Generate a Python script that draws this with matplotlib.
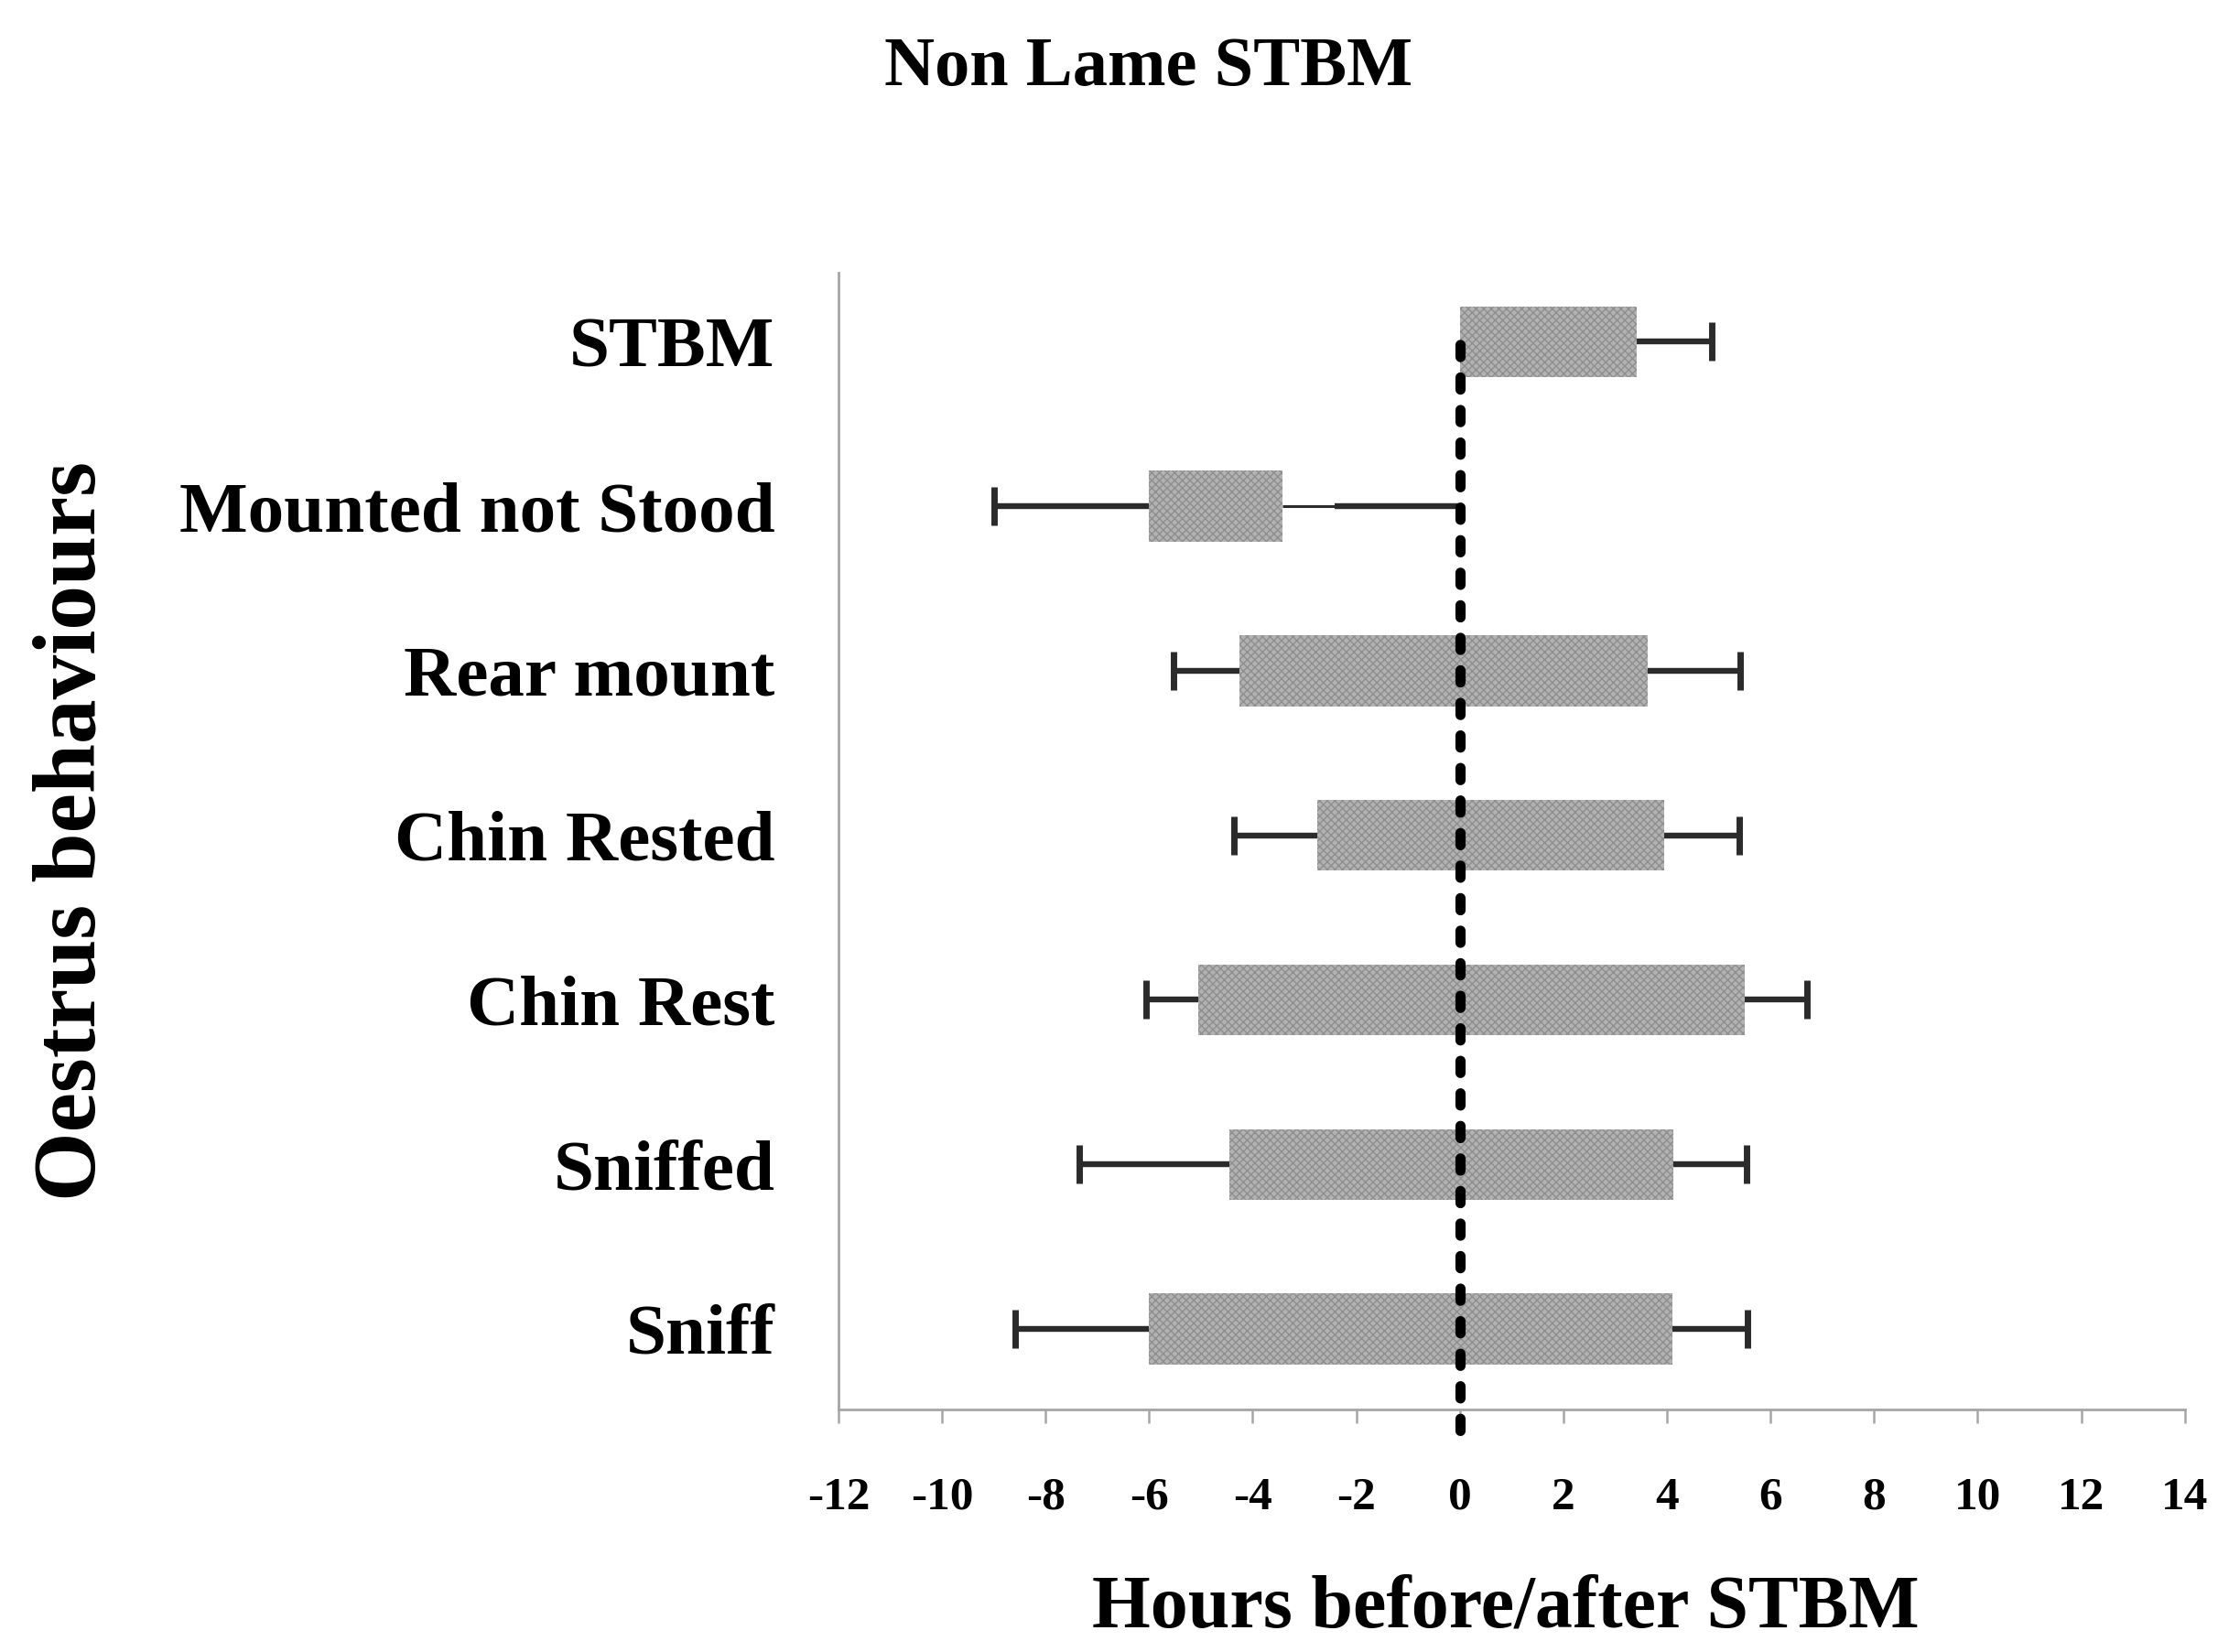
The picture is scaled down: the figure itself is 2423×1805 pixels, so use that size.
import matplotlib
matplotlib.use("Agg")
import matplotlib.pyplot as plt
import numpy as np

# Oestrus behaviours, listed top to bottom
behaviours = ["STBM", "Mounted not Stood", "Rear mount", "Chin Rested",
              "Chin Rest", "Sniffed", "Sniff"]
# Mean onset / end of each behaviour (hours relative to STBM)
onset = [0.0, -6.0, -4.25, -2.75, -5.05, -4.45, -6.0]
end = [3.42, -3.42, 3.63, 3.95, 5.5, 4.12, 4.1]
# Error on onset (drawn to the left) and on end (drawn to the right)
onset_err = [0.0, 3.0, 1.27, 1.62, 1.0, 2.9, 2.58]
end_err = [1.44, 1.0, 1.78, 1.45, 1.2, 1.42, 1.45]

x_ticks = list(range(-12, 15, 2))
x_tick_labels = [str(t) for t in x_ticks]

title = "Non Lame STBM"
x_label = "Hours before/after STBM"
y_label = "Oestrus behaviours"

plt.rcParams["font.family"] = ["Liberation Serif", "DejaVu Serif"]
plt.rcParams["font.weight"] = "bold"
plt.rcParams["hatch.linewidth"] = 1.0

fig = plt.figure(figsize=(24.23, 18.05), dpi=100, facecolor="white")
ax = fig.add_axes([0.378, 0.1468, 0.607, 0.6882])

n = len(behaviours)
ypos = np.arange(n)[::-1]
onset_a = np.array(onset)
end_a = np.array(end)
on_err = np.array(onset_err)
en_err = np.array(end_err)
widths = end_a - onset_a
bar_h = 0.43

ax.barh(ypos, widths, left=onset_a, height=bar_h, color="#b2b2b2",
        edgecolor="none", zorder=2)
ax.barh(ypos, widths, left=onset_a, height=bar_h, color="none",
        edgecolor="#8e8e8e", hatch="xxxx", linewidth=0, zorder=2.1)

err_col = "#2b2b2b"
whisker_lw = 4.6
cap_size = 30
cap_lw = 5.0

# Left whiskers: from the onset outwards, capped at the far end only
for yp, o, oe in zip(ypos, onset_a, on_err):
    if oe > 0:
        ax.plot([o - oe, o], [yp, yp], color=err_col, lw=whisker_lw,
                solid_capstyle="butt", zorder=3)
        ax.plot([o - oe], [yp], marker="|", markersize=cap_size,
                markeredgewidth=cap_lw, color=err_col, zorder=3)

# Right whiskers: from the end outwards
for yp, e, ee in zip(ypos, end_a, en_err):
    if e < 0:
        # behaviour finished before STBM: thin whisker, then link to zero
        ax.plot([e, e + ee], [yp, yp], color=err_col, lw=2.2,
                solid_capstyle="butt", zorder=3)
        ax.plot([e + ee, 0], [yp, yp], color=err_col, lw=whisker_lw,
                solid_capstyle="butt", zorder=3)
    else:
        ax.plot([e, e + ee], [yp, yp], color=err_col, lw=whisker_lw,
                solid_capstyle="butt", zorder=3)
        ax.plot([e + ee], [yp], marker="|", markersize=cap_size,
                markeredgewidth=cap_lw, color=err_col, zorder=3)

# Time of STBM
ax.plot([0, 0], [-0.62, ypos[0] + 0.1], color="black", lw=8,
        linestyle=(0, (1.2, 2.0)), dash_capstyle="round",
        clip_on=False, zorder=4)

ax.set_xlim(-12, 14)
ax.set_ylim(-0.49, 6.42)
ax.set_xticks(x_ticks)
ax.set_xticklabels(x_tick_labels, fontsize=37, fontweight="bold")
ax.set_yticks(ypos)
ax.set_yticklabels(behaviours, fontsize=57, fontweight="bold")

for s in ["top", "right"]:
    ax.spines[s].set_visible(False)
for s in ["left", "bottom"]:
    ax.spines[s].set_color("#a6a6a6")
    ax.spines[s].set_linewidth(2.0)
ax.tick_params(axis="x", direction="out", length=11, width=1.8,
               color="#a6a6a6", pad=42)
ax.tick_params(axis="y", length=0, pad=50)

fig.text(0.518, 0.959, title, ha="center", va="center", fontsize=55,
         fontweight="bold")
fig.text(0.679, 0.026, x_label, ha="center", va="center", fontsize=59,
         fontweight="bold")
fig.text(0.033, 0.497, y_label, ha="center", va="center", fontsize=70,
         fontweight="bold", rotation=90)

fig.savefig("out.png", dpi=100, facecolor="white")
